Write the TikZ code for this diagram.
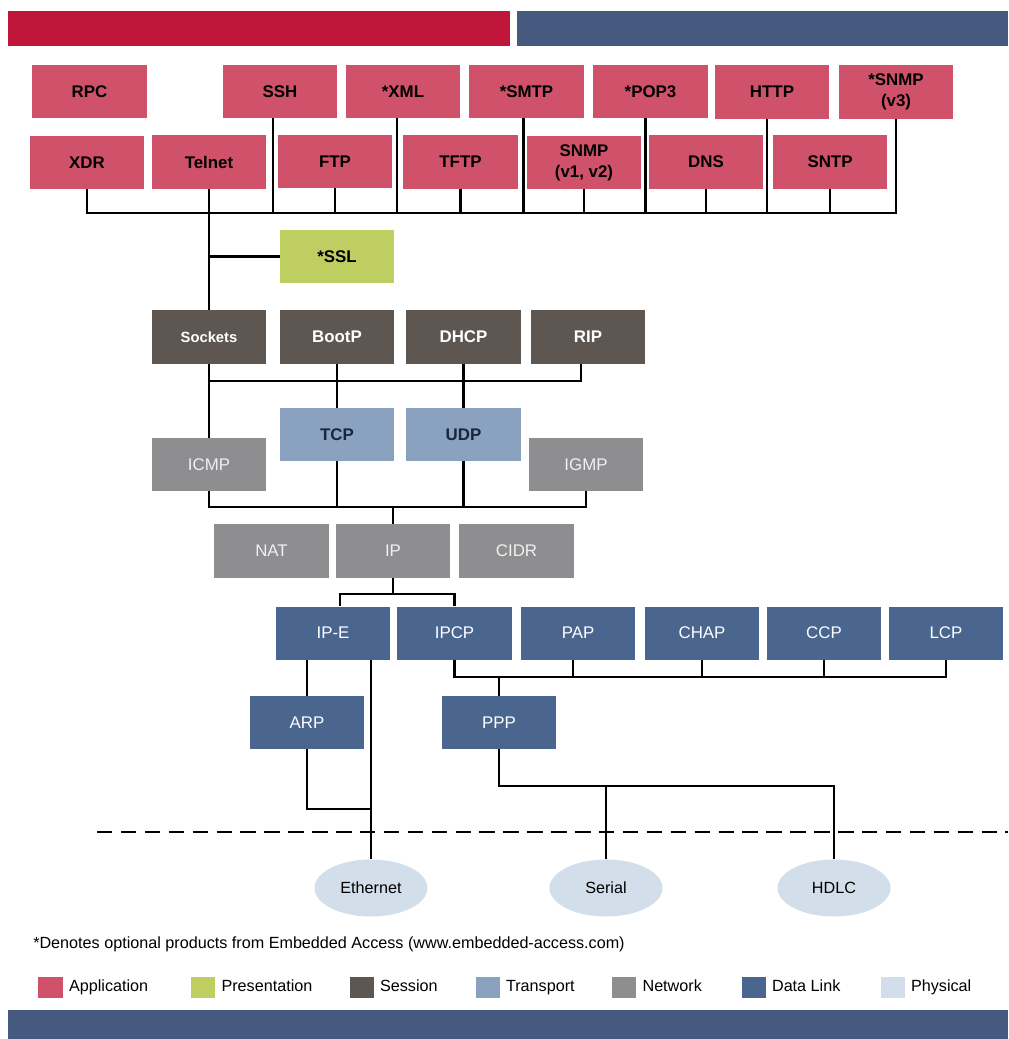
\documentclass[tikz,border=0pt]{standalone}
\usepackage{fontspec}
\setmainfont{Liberation Sans}
\usetikzlibrary{calc,positioning,shapes.geometric}

\definecolor{barred}{RGB}{192,22,58}
\definecolor{barblue}{RGB}{70,90,128}
\definecolor{appred}{RGB}{208,82,106}
\definecolor{presgreen}{RGB}{190,206,96}
\definecolor{sessbrown}{RGB}{94,86,80}
\definecolor{transblue}{RGB}{138,162,192}
\definecolor{transtext}{RGB}{24,38,62}
\definecolor{netgray}{RGB}{142,142,145}
\definecolor{linkblue}{RGB}{74,101,142}
\definecolor{physblue}{RGB}{210,222,234}

\begin{document}
\begin{tikzpicture}[x=0.025cm, y=-0.025cm,
    layer/.style={minimum width=2.85cm, minimum height=1.325cm, inner sep=0pt, align=center,
                  font=\fontsize{12}{15}\selectfont},
    app/.style={layer, fill=appred, font=\fontsize{12}{15}\selectfont\bfseries},
    pres/.style={layer, fill=presgreen, font=\fontsize{12}{15}\selectfont\bfseries},
    sess/.style={layer, fill=sessbrown, text=white, font=\fontsize{12}{15}\selectfont\bfseries},
    trans/.style={layer, fill=transblue, text=transtext, font=\fontsize{12}{15}\selectfont\bfseries},
    net/.style={layer, fill=netgray, text=black!6},
    link/.style={layer, fill=linkblue, text=white},
    phys/.style={ellipse, fill=physblue, minimum width=2.825cm, minimum height=1.425cm, inner sep=0pt,
                 font=\fontsize{11.5}{12}\selectfont},
    wire/.style={line width=1.8pt},
    key/.style={minimum width=0.6cm, minimum height=0.53cm, inner sep=0pt},
    keytext/.style={inner sep=0pt, text height=1.6ex, text depth=0.5ex, font=\fontsize{11.5}{12}\selectfont},
  ]
  \useasboundingbox (0,0) rectangle (1008,1039);

  \fill[barred] (8,11) rectangle (510,46);            % top bars
  \fill[barblue] (517,11) rectangle (1008,46);
  \fill[barblue] (8,1010) rectangle (1008,1039);      % bottom bar

  % application
  \node[app] (rpc) at (89.5,91.5) {RPC};
  \node[app] (ssh) at (280,91.5) {SSH};
  \node[app] (xml) at (403,91.5) {*XML};
  \node[app] (smtp) at (526.5,91.5) {*SMTP};
  \node[app] (pop) at (650.5,91.5) {*POP3};
  \node[app] (http) at (772,92) {HTTP};
  \node[app] (snmpc) at (896,92) {*SNMP\\(v3)};
  \node[app] (xdr) at (87,162.5) {XDR};
  \node[app] (telnet) at (209,162) {Telnet};
  \node[app] (ftp) at (335,161.5) {FTP};
  \node[app] (tftp) at (460.5,162) {TFTP};
  \node[app] (snmpab) at (584,162.5) {SNMP\\(v1, v2)};
  \node[app] (dns) at (706,162) {DNS};
  \node[app] (sntp) at (830,162) {SNTP};

  % presentation
  \node[pres] (ssl) at (337,256.5) {*SSL};

  % session
  \node[sess, font=\fontsize{10.5}{11}\selectfont\bfseries] (sockets) at (209,337) {Sockets};
  \node[sess] (bootp) at (337,337) {BootP};
  \node[sess] (dhcp) at (463.5,337) {DHCP};
  \node[sess] (rip) at (588,337) {RIP};

  % transport
  \node[trans] (tcp) at (337,434.5) {TCP};
  \node[trans] (udp) at (463.5,434.5) {UDP};

  % network
  \node[net] (icmp) at (209,464.5) {ICMP};
  \node[net] (igmp) at (586,464.5) {IGMP};
  \node[net] (nat) at (271.5,551) {NAT};
  \node[net] (ip) at (393,551) {IP};
  \node[net] (cidr) at (516.5,551) {CIDR};

  % data link
  \node[link] (ipe) at (333,633) {IP-E};
  \node[link] (ipcp) at (454.5,633) {IPCP};
  \node[link] (pap) at (578,633) {PAP};
  \node[link] (chap) at (702,633) {CHAP};
  \node[link] (ccp) at (824,633) {CCP};
  \node[link] (lcp) at (946,633) {LCP};
  \node[link] (arp) at (307,722.5) {ARP};
  \node[link] (ppp) at (499,722.5) {PPP};

  % physical
  \node[phys] (eth) at (371,888) {Ethernet};
  \node[phys] (serial) at (606,888) {Serial};
  \node[phys] (hdlc) at (834,888) {HDLC};

  % buses
  \coordinate (abus) at (0,213);
  \coordinate (sbus) at (0,381);
  \coordinate (nbus) at (0,507);
  \coordinate (split) at (0,594);
  \coordinate (dbus) at (0,677);
  \coordinate (pbus) at (0,786);
  \coordinate (ebus) at (0,809);

  \draw[wire] (xdr.south) |- (abus -| snmpc.south) -- (snmpc.south);
  \foreach \n in {ftp,tftp,snmpab,dns,sntp}
    \draw[wire] (\n.south) -- (\n.south |- abus);
  \foreach \n/\d in {ssh/-7,xml/-6,smtp/-3,pop/-5,http/-5}
    \draw[wire] ($(\n.south)+(\d,0)$) coordinate (drop) -- (drop |- abus);
  \draw[wire] (telnet.south) -- (sockets.north);
  \draw[wire] (ssl.west) -- (ssl.west -| telnet.south);

  \draw[wire] ($(rip.south)+(-7,0)$) |- (sbus -| sockets.south);
  \draw[wire] (sockets.south) -- (icmp.north);
  \draw[wire] (bootp.south) -- (tcp.north);
  \draw[wire] (dhcp.south) -- (udp.north);

  \draw[wire] (icmp.south) |- (nbus -| igmp.south) -- (igmp.south);
  \foreach \n in {tcp,udp}
    \draw[wire] (\n.south) -- (\n.south |- nbus);
  \draw[wire] (ip.north) -- (ip.north |- nbus);

  \draw[wire] (ip.south) -- (ip.south |- split);
  \draw[wire] ($(ipe.north)+(7,0)$) |- (split -| ipcp.north) -- (ipcp.north);

  \draw[wire] (ipcp.south) |- (dbus -| lcp.south) -- (lcp.south);
  \draw[wire] ($(pap.south)+(-5,0)$) coordinate (drop) -- (drop |- dbus);
  \foreach \n in {chap,ccp}
    \draw[wire] (\n.south) -- (\n.south |- dbus);
  \draw[wire] (ppp.north) -- (ppp.north |- dbus);

  \draw[wire] (arp.north) -- (arp.north |- ipe.south);
  \draw[wire] (eth.north) -- (eth.north |- ipe.south);
  \draw[wire] (arp.south) |- (ebus -| eth.north);
  \draw[wire] (ppp.south) |- (pbus -| hdlc.north) -- (hdlc.north);
  \draw[wire] (serial.north) -- (serial.north |- pbus);

  \draw[line width=1.4pt, dash pattern=on 11pt off 6pt] (97,832) -- (1008,832);  % layer border

  % footnote and key
  \node[anchor=west, inner sep=0pt, font=\fontsize{11.5}{12}\selectfont] (note) at (33,944)
    {*Denotes optional products from Embedded Access (www.embedded-access.com)};
  \foreach \c/\t/\x [count=\i] in {appred/Application/50.5, presgreen/Presentation/203,
      sessbrown/Session/361.5, transblue/Transport/487.5, netgray/Network/624,
      linkblue/Data Link/753.5, physblue/Physical/892.5}
  {
    \node[key, fill=\c] (key\i) at (\x,987.5) {};
    \node[keytext, right=0.15cm of key\i] (keytext\i) {\t};
  }
\end{tikzpicture}
\end{document}
